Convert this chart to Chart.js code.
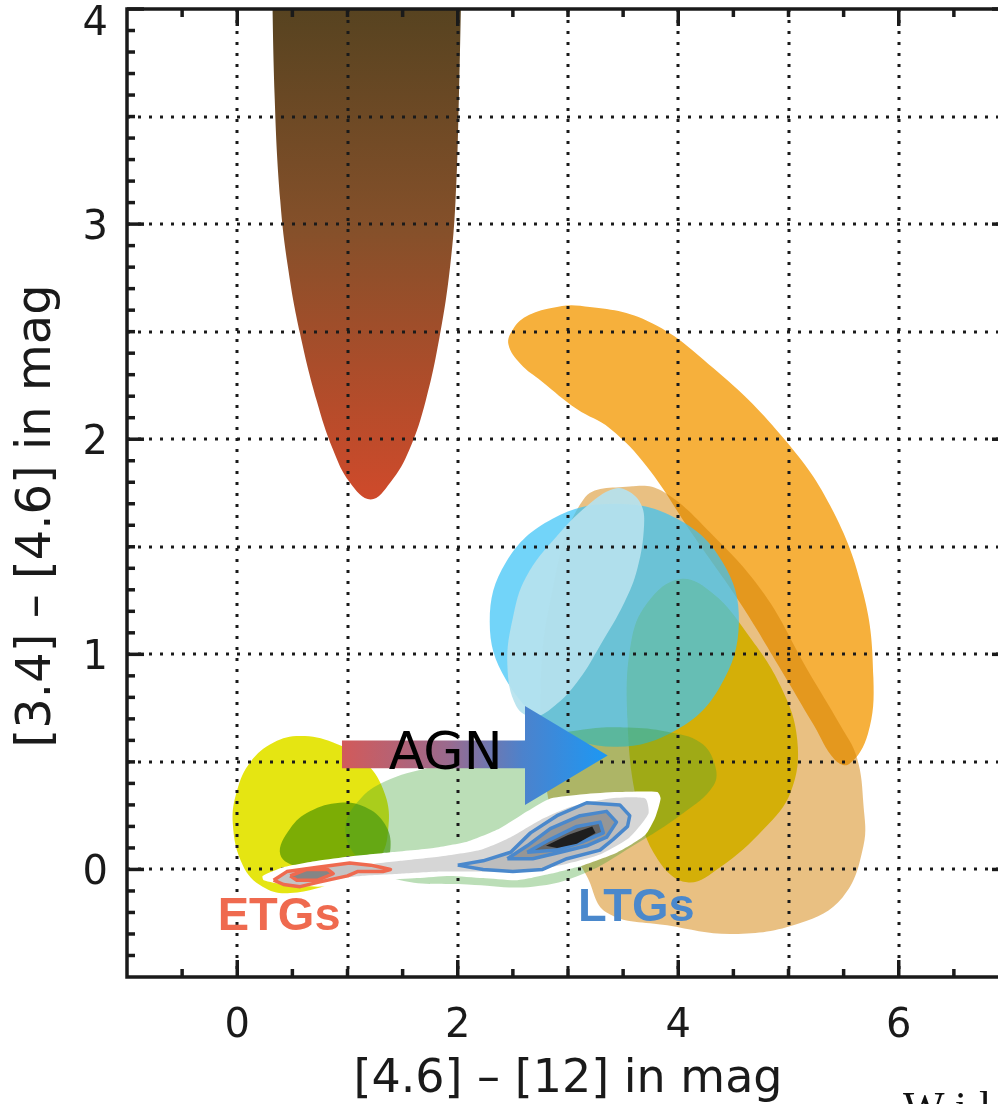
<!DOCTYPE html>
<html lang="en">
<head>
    <meta charset="UTF-8">
    <title>WISE colour-colour diagram</title>
    <script src="https://cdn.jsdelivr.net/npm/chart.js"></script>
    <style>
        html, body { margin: 0; padding: 0; background: #fff; width: 998px; height: 1104px; overflow: hidden; }
        #wrap { position: relative; width: 1020px; height: 1104px; }
        canvas { display: block; }
        .note { position: absolute; left: 903px; top: 1082px; font: 44px "Liberation Serif", serif; letter-spacing: 12px; color: #111; white-space: nowrap; }
    </style>
</head>
<body>
    <div id="wrap">
        <canvas id="wiseChart" width="1020" height="1104"></canvas>
        <div class="note">Wil</div>
    </div>

    <script>
        // axis ranges and ticks
        var xRange = [-1, 7];
        var yRange = [-0.5, 4];
        var xGridValues = [0, 1, 2, 3, 4, 5, 6];
        var yGridValues = [0, 0.5, 1, 1.5, 2, 2.5, 3, 3.5];
        var xMajorTicks = [0, 2, 4, 6];
        var xTickLabels = ['0', '2', '4', '6'];
        var xMinorTicks = [-0.5, 0.5, 1, 1.5, 2.5, 3, 3.5, 4.5, 5, 5.5, 6.5];
        var yMajorTicks = [0, 1, 2, 3, 4];
        var yTickLabels = ['0', '1', '2', '3', '4'];
        var yMinorTicks = [-0.4, -0.3, -0.2, -0.1, 0.1, 0.2, 0.3, 0.4, 0.5, 0.6, 0.7, 0.8, 0.9,
                           1.1, 1.2, 1.3, 1.4, 1.5, 1.6, 1.7, 1.8, 1.9, 2.1, 2.2, 2.3, 2.4, 2.5,
                           2.6, 2.7, 2.8, 2.9, 3.1, 3.2, 3.3, 3.4, 3.5, 3.6, 3.7, 3.8, 3.9];

        // region outlines, [4.6]-[12] vs [3.4]-[4.6]
        var brownRegion = [[0.31, 4.3], [0.34, 3.58], [0.39, 3.11], [0.46, 2.80], [0.57, 2.49], [0.72, 2.18],
                           [0.87, 1.95], [1.02, 1.80], [1.21, 1.72], [1.39, 1.80], [1.56, 1.95], [1.71, 2.18],
                           [1.84, 2.49], [1.93, 2.80], [1.98, 3.11], [2.01, 3.58], [2.04, 4.3]];
        var orangeRegion = [[2.46, 2.44], [2.50, 2.51], [2.62, 2.57], [2.85, 2.61], [3.11, 2.62], [3.72, 2.55],
                            [4.32, 2.33], [4.93, 2.02], [5.38, 1.69], [5.68, 1.28], [5.77, 0.89], [5.72, 0.63],
                            [5.55, 0.49], [5.42, 0.51], [5.23, 0.67], [4.93, 0.93], [4.56, 1.24], [4.14, 1.55],
                            [3.72, 1.87], [3.38, 2.05], [3.08, 2.14], [2.76, 2.27], [2.57, 2.35]];
        var tanRegion = [[3.56, 1.78], [3.85, 1.76], [4.32, 1.55], [4.78, 1.28], [5.17, 0.93], [5.47, 0.67],
                         [5.62, 0.52], [5.68, 0.30], [5.68, 0.11], [5.49, -0.13], [5.10, -0.25], [4.50, -0.30],
                         [3.90, -0.26], [3.35, -0.20], [3.17, -0.03], [2.93, 0.19], [2.81, 0.36], [2.75, 0.79],
                         [2.84, 1.25], [3.14, 1.72]];
        var goldRegion = [[4.02, 1.35], [4.32, 1.28], [4.62, 1.10], [4.93, 0.85], [5.08, 0.60], [5.02, 0.36],
                          [4.78, 0.19], [4.38, 0.01], [4.08, -0.06], [3.81, 0.05], [3.63, 0.30], [3.54, 0.69],
                          [3.57, 1.05], [3.72, 1.24]];
        var cyanRegion = [[4.55, 1.15], [4.40, 1.43], [3.99, 1.63], [3.42, 1.70], [2.86, 1.63], [2.44, 1.43],
                          [2.29, 1.15], [2.44, 0.88], [2.86, 0.66], [3.42, 0.57], [3.99, 0.65], [4.38, 0.85]];
        var paleRegion = [[3.54, 1.76], [3.66, 1.70], [3.69, 1.60], [3.63, 1.40], [3.51, 1.24], [3.29, 1.04],
                          [3.11, 0.89], [2.90, 0.77], [2.69, 0.71], [2.53, 0.76], [2.45, 0.95], [2.50, 1.17],
                          [2.62, 1.36], [2.90, 1.55], [3.22, 1.71], [3.42, 1.77]];
        var yellowRegion = [[0.57, 0.62], [0.87, 0.59], [1.16, 0.50], [1.34, 0.35], [1.37, 0.19], [1.28, 0.05],
                            [0.93, -0.05], [0.48, -0.11], [0.23, -0.08], [0.05, 0.02], [-0.04, 0.21], [0.00, 0.37],
                            [0.12, 0.50], [0.33, 0.59]];
        var darkGreenRegion = [[0.39, 0.07], [0.48, 0.19], [0.66, 0.27], [0.93, 0.31], [1.16, 0.29], [1.34, 0.21],
                               [1.39, 0.10], [1.31, 0.02], [0.93, 0.00], [0.57, 0.01]];
        var greenRegion = [[0.98, 0.19], [1.12, 0.33], [1.39, 0.42], [1.78, 0.48], [2.38, 0.57], [3.14, 0.65],
                           [3.54, 0.66], [3.90, 0.64], [4.20, 0.59], [4.33, 0.49], [4.32, 0.39], [4.04, 0.26],
                           [3.59, 0.11], [3.14, -0.02], [2.68, -0.08], [2.09, -0.07], [1.48, -0.05], [1.12, 0.04]];
        var agnArrow = [[0.95, 0.60], [2.61, 0.60], [2.61, 0.76], [3.36, 0.53], [2.61, 0.30], [2.61, 0.47], [0.95, 0.47]];

        // galaxy density: outer envelope, grey level, LTG and ETG contours
        var galaxyEnvelope = [[0.23, -0.03], [0.42, 0.01], [0.73, 0.04], [1.02, 0.06], [1.39, 0.08], [1.78, 0.10],
                              [2.09, 0.13], [2.38, 0.19], [2.63, 0.27], [2.84, 0.33], [3.14, 0.35], [3.45, 0.36],
                              [3.81, 0.36], [3.84, 0.33], [3.79, 0.24], [3.70, 0.16], [3.45, 0.08], [3.14, 0.02],
                              [2.84, -0.02], [2.54, -0.05], [2.23, -0.04], [1.93, -0.03], [1.63, -0.04], [1.32, -0.05],
                              [1.02, -0.07], [0.73, -0.08], [0.42, -0.07], [0.24, -0.05]];
        var galaxyGrey = [[0.39, -0.03], [0.75, 0.01], [1.12, 0.02], [1.48, 0.04], [1.84, 0.06], [2.20, 0.09],
                          [2.48, 0.15], [2.75, 0.23], [3.02, 0.29], [3.38, 0.33], [3.70, 0.33], [3.73, 0.26],
                          [3.56, 0.15], [3.29, 0.07], [2.93, 0.02], [2.57, -0.01], [2.20, -0.01], [1.84, -0.01],
                          [1.48, -0.02], [1.12, -0.03], [0.75, -0.05], [0.44, -0.05]];
        var ltgContour1 = [[2.00, 0.02], [2.23, 0.04], [2.48, 0.08], [2.66, 0.17], [2.90, 0.25], [3.17, 0.31],
                           [3.47, 0.30], [3.56, 0.25], [3.54, 0.20], [3.41, 0.14], [3.29, 0.09], [2.99, 0.05],
                           [2.77, 0.00], [2.50, -0.01], [2.23, 0.00]];
        var ltgContour2 = [[2.45, 0.05], [2.63, 0.11], [2.84, 0.19], [3.11, 0.25], [3.35, 0.27], [3.44, 0.22],
                           [3.35, 0.15], [3.17, 0.11], [2.93, 0.08], [2.68, 0.05]];
        var ltgContour3 = [[2.63, 0.08], [2.84, 0.14], [3.08, 0.20], [3.29, 0.22], [3.32, 0.17], [3.14, 0.13], [2.90, 0.09]];
        var ltgCore = [[2.80, 0.11], [3.00, 0.16], [3.22, 0.20], [3.25, 0.17], [3.08, 0.12], [2.90, 0.10]];
        var etgContour1 = [[0.33, -0.05], [0.45, -0.01], [0.73, 0.01], [1.02, 0.03], [1.21, 0.02], [1.30, 0.01],
                           [1.39, 0.00], [1.32, -0.01], [1.21, -0.01], [1.09, -0.01], [1.00, -0.03], [0.73, -0.06],
                           [0.57, -0.08], [0.42, -0.07]];
        var etgContour2 = [[0.48, -0.03], [0.63, 0.00], [0.82, 0.00], [0.87, -0.02], [0.73, -0.05], [0.54, -0.05]];

        // text labels inside the plot
        var labelText = ['AGN', 'ETGs', 'LTGs'];
        var labelX = [1.89, 0.38, 3.62];
        var labelY = [0.53, -0.22, -0.18];

        function toPoints(arr) {
            return arr.map(function(p) { return {x: p[0], y: p[1]}; });
        }

        // wrap the first/last points so the spline closes smoothly
        function closedSpline(arr) {
            var pts = toPoints(arr);
            var n = arr.length;
            return [{x: arr[n - 1][0], y: arr[n - 1][1]}].concat(pts, [pts[0], pts[1]]);
        }

        function closedPolygon(arr) {
            var pts = toPoints(arr);
            pts.push(pts[0]);
            return pts;
        }

        function region(label, data, color, tension) {
            return {
                label: label,
                data: data,
                fill: 'shape',
                backgroundColor: color,
                borderColor: 'transparent',
                borderWidth: 0,
                pointRadius: 0,
                tension: tension
            };
        }

        function contour(label, arr, fillColor, lineColor) {
            return {
                label: label,
                data: closedPolygon(arr),
                fill: 'shape',
                backgroundColor: fillColor,
                borderColor: lineColor || 'transparent',
                borderWidth: lineColor ? 3.5 : 0,
                borderJoinStyle: 'round',
                pointRadius: 0,
                tension: 0
            };
        }

        function brownGradient(context) {
            var chart = context.chart;
            if (!chart.chartArea) return '#8a4e24';
            var y = chart.scales.y;
            var g = chart.ctx.createLinearGradient(0, y.getPixelForValue(4), 0, y.getPixelForValue(1.72));
            g.addColorStop(0, '#574320');
            g.addColorStop(0.45, '#85502a');
            g.addColorStop(1, '#cf4a2b');
            return g;
        }

        function arrowGradient(context) {
            var chart = context.chart;
            if (!chart.chartArea) return '#6a78b0';
            var x = chart.scales.x;
            var g = chart.ctx.createLinearGradient(x.getPixelForValue(0.95), 0, x.getPixelForValue(3.36), 0);
            g.addColorStop(0, '#d25a5a');
            g.addColorStop(0.4, '#9a6a8e');
            g.addColorStop(0.68, '#4c82cc');
            g.addColorStop(1, '#1c98f4');
            return g;
        }

        var datasets = [
            region('brown', toPoints(brownRegion), brownGradient, 0.4),
            region('orange', closedSpline(orangeRegion), 'rgb(246,176,60)', 0.4),
            region('tan', closedSpline(tanRegion), 'rgba(210,126,0,0.49)', 0.4),
            region('gold', closedSpline(goldRegion), 'rgb(212,175,8)', 0.4),
            region('cyan', closedSpline(cyanRegion), 'rgba(59,196,247,0.72)', 0.4),
            region('pale', closedSpline(paleRegion), 'rgba(182,226,238,0.93)', 0.4),
            region('yellow', closedSpline(yellowRegion), 'rgb(229,229,18)', 0.4),
            region('darkgreen', closedSpline(darkGreenRegion), 'rgba(80,150,0,0.7)', 0.4),
            region('green', closedSpline(greenRegion), 'rgba(60,160,50,0.35)', 0.4),
            region('agn', closedPolygon(agnArrow), arrowGradient, 0),
            region('envelope', closedSpline(galaxyEnvelope), '#ffffff', 0.2),
            region('grey', closedSpline(galaxyGrey), '#d6d6d6', 0.2),
            contour('ltg1', ltgContour1, '#bdbdbd', '#4a88cc'),
            contour('ltg2', ltgContour2, '#969696', '#4a88cc'),
            contour('ltg3', ltgContour3, '#666666', '#4a88cc'),
            contour('ltgcore', ltgCore, '#1e1e1e', null),
            contour('etg1', etgContour1, '#c4c4c4', '#ef6a4f'),
            contour('etg2', etgContour2, '#858585', '#ef6a4f')
        ];
        // first dataset at the back
        datasets.forEach(function(d, i) { d.order = datasets.length - i; });

        // dotted grid goes above the coloured regions, under arrow and galaxies
        var gridPlugin = {
            id: 'dottedGrid',
            afterDatasetDraw: function(chart, args) {
                if (chart.data.datasets[args.index].label !== 'green') return;
                var ctx = chart.ctx, a = chart.chartArea, x = chart.scales.x, y = chart.scales.y;
                ctx.save();
                ctx.strokeStyle = '#1a1a1a';
                ctx.lineWidth = 3;
                ctx.setLineDash([3, 8]);
                xGridValues.forEach(function(v) {
                    var px = Math.round(x.getPixelForValue(v));
                    ctx.beginPath(); ctx.moveTo(px, a.top); ctx.lineTo(px, a.bottom); ctx.stroke();
                });
                yGridValues.forEach(function(v) {
                    var py = Math.round(y.getPixelForValue(v));
                    ctx.beginPath(); ctx.moveTo(a.left, py); ctx.lineTo(a.right, py); ctx.stroke();
                });
                ctx.restore();
            }
        };

        // frame with inward ticks, tick labels and in-plot labels
        var framePlugin = {
            id: 'frame',
            afterDraw: function(chart) {
                var ctx = chart.ctx, a = chart.chartArea, x = chart.scales.x, y = chart.scales.y;
                ctx.save();
                ctx.strokeStyle = '#1a1a1a';
                ctx.lineWidth = 3.5;
                function seg(x1, y1, x2, y2) {
                    ctx.beginPath(); ctx.moveTo(x1, y1); ctx.lineTo(x2, y2); ctx.stroke();
                }
                function xTick(v, len) {
                    var px = x.getPixelForValue(v);
                    seg(px, a.bottom, px, a.bottom - len);
                    seg(px, a.top, px, a.top + len);
                }
                function yTick(v, len) {
                    var py = y.getPixelForValue(v);
                    seg(a.left, py, a.left + len, py);
                    seg(a.right, py, a.right - len, py);
                }
                xMajorTicks.forEach(function(v) { xTick(v, 17); });
                xMinorTicks.forEach(function(v) { xTick(v, 8); });
                yMajorTicks.forEach(function(v) { yTick(v, 17); });
                yMinorTicks.forEach(function(v) { yTick(v, 8); });
                ctx.strokeRect(a.left, a.top, a.right - a.left, a.bottom - a.top);

                ctx.fillStyle = '#1a1a1a';
                ctx.font = '40px "DejaVu Sans"';
                ctx.textAlign = 'center';
                ctx.textBaseline = 'middle';
                xTickLabels.forEach(function(t, i) {
                    ctx.fillText(t, x.getPixelForValue(xMajorTicks[i]), a.bottom + 50);
                });
                ctx.textAlign = 'right';
                yTickLabels.forEach(function(t, i) {
                    var py = Math.max(y.getPixelForValue(yMajorTicks[i]) + 4, a.top + 16);
                    ctx.fillText(t, a.left - 19, py);
                });

                var fonts = ['52px "DejaVu Sans"', 'bold 47px "Liberation Sans"', 'bold 47px "Liberation Sans"'];
                var colors = ['#000000', '#ef6a4f', '#4a88cc'];
                ctx.textAlign = 'center';
                labelText.forEach(function(t, i) {
                    ctx.font = fonts[i];
                    ctx.fillStyle = colors[i];
                    ctx.fillText(t, x.getPixelForValue(labelX[i]), y.getPixelForValue(labelY[i]));
                });
                ctx.restore();
            }
        };

        new Chart(document.getElementById('wiseChart'), {
            type: 'line',
            data: { datasets: datasets },
            options: {
                responsive: false,
                animation: false,
                events: [],
                layout: { padding: { top: 9, right: 11, left: 0, bottom: 0 } },
                plugins: { legend: { display: false }, tooltip: { enabled: false } },
                scales: {
                    x: {
                        type: 'linear',
                        position: 'bottom',
                        min: xRange[0],
                        max: xRange[1],
                        grid: { display: false },
                        border: { display: false },
                        ticks: { display: false, stepSize: 1 },
                        title: {
                            display: true,
                            text: '[4.6] \u2013 [12] in mag',
                            color: '#1a1a1a',
                            font: { family: 'DejaVu Sans', size: 46, lineHeight: 1 },
                            padding: { top: 0, bottom: 1 }
                        },
                        afterFit: function(scale) {
                            scale.height = 127;
                            scale.paddingLeft = 0;
                            scale.paddingRight = 0;
                        }
                    },
                    y: {
                        type: 'linear',
                        min: yRange[0],
                        max: yRange[1],
                        grid: { display: false },
                        border: { display: false },
                        ticks: { display: false, stepSize: 0.5 },
                        title: {
                            display: true,
                            text: '[3.4] \u2013 [4.6] in mag   ',
                            color: '#1a1a1a',
                            font: { family: 'DejaVu Sans', size: 48, lineHeight: 1 },
                            padding: { top: 14, bottom: 0 }
                        },
                        afterFit: function(scale) {
                            scale.width = 127;
                            scale.paddingTop = 0;
                            scale.paddingBottom = 0;
                        }
                    }
                }
            },
            plugins: [gridPlugin, framePlugin]
        });
    </script>
</body>
</html>
